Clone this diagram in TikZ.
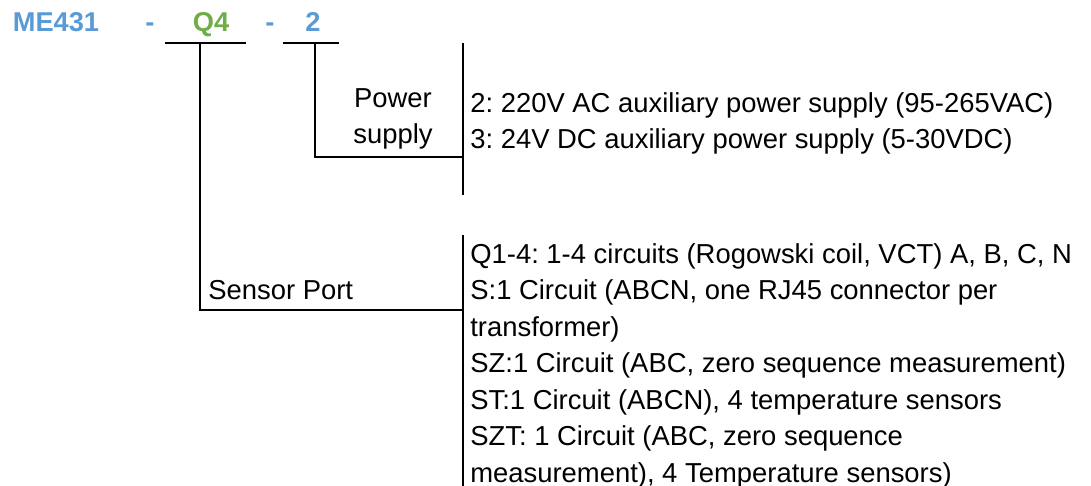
\documentclass[tikz,border=0pt]{standalone}
\usepackage{fontspec}
\setmainfont{Liberation Sans}
\usepackage{tikz}
\usetikzlibrary{positioning}
\frenchspacing

\definecolor{codeblue}{RGB}{91,155,213}
\definecolor{codegreen}{RGB}{112,173,71}

\begin{document}
\begin{tikzpicture}[
			x=0.02cm,
			y=-0.02cm,
			font={\fontsize{15.6pt}{20.8pt}\selectfont},
			code/.style={anchor=base, inner sep=0pt, font={\fontsize{15.5pt}{19pt}\selectfont\bfseries}},
			fieldname/.style={inner sep=0pt, align=center},
			optlist/.style={inner sep=0pt, anchor=north west, align=left},
			link/.style={draw, line width=0.7pt}
			]
			\useasboundingbox (0,0) rectangle (1091,486);
			
			% -------------------------------
			% ORDER CODE
			% -------------------------------
			\node[code, text=codeblue] (model) at (56,32) {ME431};
			\node[code, text=codeblue] (dash1) at (150,32) {-};
			\node[code, text=codegreen] (port) at (211,32) {Q4};
			\node[code, text=codeblue] (dash2) at (270,32) {-};
			\node[code, text=codeblue] (supply) at (313,32) {2};
			
			\coordinate (portL) at (165,43);
			\coordinate (portR) at (246,43);
			\coordinate (portStem) at (200,43);
			\coordinate (supL) at (283,43);
			\coordinate (supR) at (339,43);
			\coordinate (supStem) at (315,43);
			
			% -------------------------------
			% SEPARATORS
			% -------------------------------
			\coordinate (sepA) at (463,43);
			\coordinate (sepB) at (463,195);
			\coordinate (sepC) at (463,235);
			\coordinate (sepD) at (463,486);
			\coordinate (supEnd) at (463,157);
			\coordinate (portEnd) at (463,310);
			
			% -------------------------------
			% POWER SUPPLY
			% -------------------------------
			\node[fieldname] (supname) at (393,119) {Power\\supply};
			\node[optlist] (supopts) at (470,92) {
				2: 220V AC auxiliary power supply (95-265VAC)\\
				3: 24V DC auxiliary power supply (5-30VDC)
			};
			
			% -------------------------------
			% SENSOR PORT
			% -------------------------------
			\node[fieldname, anchor=base west] (portname) at (208,299) {Sensor Port};
			\node[optlist] (portopts) at (470,243) {
				Q1-4: 1-4 circuits (Rogowski coil, VCT) A, B, C, N\\
				S:1 Circuit (ABCN, one RJ45 connector per\\
				transformer)\\
				SZ:1 Circuit (ABC, zero sequence measurement)\\
				ST:1 Circuit (ABCN), 4 temperature sensors\\
				SZT: 1 Circuit (ABC, zero sequence\\
				measurement), 4 Temperature sensors)
			};
			
			% -------------------------------
			% LINES
			% -------------------------------
			\draw[link] (portL) -- (portR);
			\draw[link] (supL) -- (supR);
			\draw[link] (sepA) -- (sepB);
			\draw[link] (sepC) -- (sepD);
			\draw[link] (supStem) |- (supEnd);
			\draw[link] (portStem) |- (portEnd);
			
		\end{tikzpicture}
\end{document}
